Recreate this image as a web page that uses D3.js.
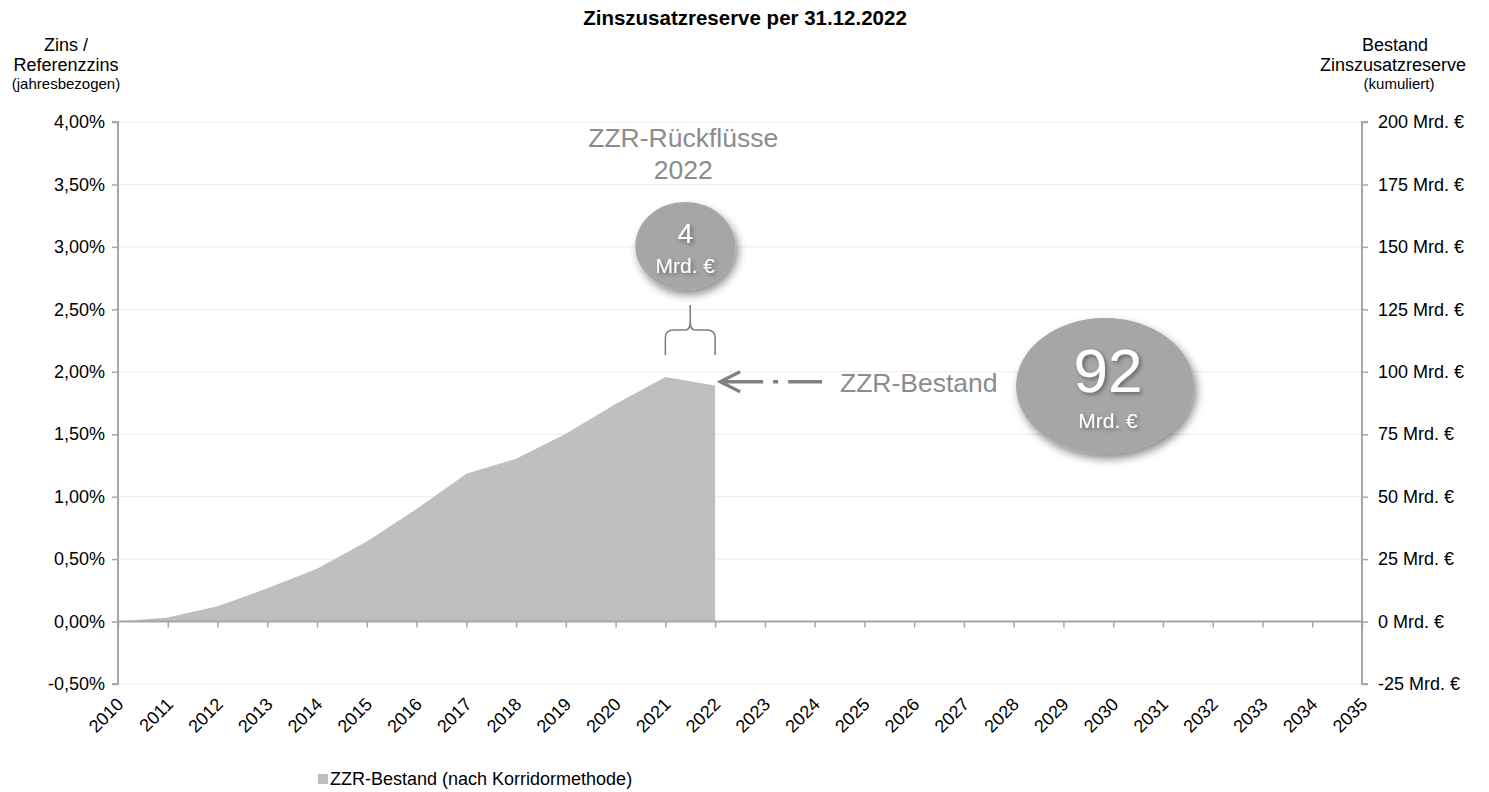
<!DOCTYPE html>
<html><head><meta charset="utf-8">
<script src="https://cdn.jsdelivr.net/npm/d3@7"></script>
<style>
body{margin:0;background:#fff;}
svg{display:block;font-family:"Liberation Sans",Arial,sans-serif;}
</style></head>
<body><svg id="c" width="1489" height="792"></svg>
<script>
const years = ["2010","2011","2012","2013","2014","2015","2016","2017","2018","2019","2020","2021","2022","2023","2024","2025","2026","2027","2028","2029","2030","2031","2032","2033","2034","2035"];
const zzrYears = ["2010","2011","2012","2013","2014","2015","2016","2017","2018","2019","2020","2021","2022"];
const zzrValues = [0, 1.6, 6.1, 13.3, 21.1, 32.1, 45.1, 59.2, 65.2, 75.2, 87.1, 97.9, 94.5];
const leftTicks = [-0.5, 0, 0.5, 1.0, 1.5, 2.0, 2.5, 3.0, 3.5, 4.0];
const rightTicks = [-25, 0, 25, 50, 75, 100, 125, 150, 175, 200];
const bubbleSmall = {value: "4", unit: "Mrd. €"};
const bubbleBig = {value: "92", unit: "Mrd. €"};

const svg = d3.select("#c");
const L = 118, R = 1362, T = 122, B = 684;
const x = d3.scalePoint().domain(years).range([L, R]);
const yL = d3.scaleLinear().domain([-0.5, 4]).range([B, T]);
const yR = d3.scaleLinear().domain([-25, 200]).range([B, T]);
const axisCol = "#a6a6a6";
const FF = "Liberation Sans, Arial, sans-serif";

const defs = svg.append("defs");
const f = defs.append("filter").attr("id","sh").attr("x","-30%").attr("y","-30%").attr("width","170%").attr("height","170%");
f.append("feDropShadow").attr("dx",3).attr("dy",5).attr("stdDeviation",4).attr("flood-color","#000").attr("flood-opacity",0.45);
const ft = defs.append("filter").attr("id","tsh").attr("x","-30%").attr("y","-30%").attr("width","170%").attr("height","170%");
ft.append("feDropShadow").attr("dx",2).attr("dy",2).attr("stdDeviation",2).attr("flood-color","#000").attr("flood-opacity",0.4);

// gridlines
svg.append("g").selectAll("line").data(leftTicks).join("line")
  .attr("x1", L).attr("x2", R).attr("y1", d => yL(d)).attr("y2", d => yL(d))
  .attr("stroke", "#ececec").attr("stroke-width", 1);

// area
const area = d3.area().x((d,i) => x(zzrYears[i])).y0(yR(0)).y1(d => yR(d));
svg.append("path").datum(zzrValues).attr("d", area).attr("fill", "#bfbfbf");

// left axis
const gl = svg.append("g").attr("transform", `translate(${L},0)`)
  .call(d3.axisLeft(yL).tickValues(leftTicks).tickSize(6).tickPadding(7)
    .tickFormat(d => d3.format(".2f")(d).replace(".", ",").replace("−", "-") + "%"));
// right axis
const gr = svg.append("g").attr("transform", `translate(${R},0)`)
  .call(d3.axisRight(yR).tickValues(rightTicks).tickSize(6).tickPadding(10)
    .tickFormat(d => d + " Mrd. €"));
[gl, gr].forEach(g => {
  g.select(".domain").attr("stroke", axisCol).attr("stroke-width", 2);
  g.selectAll(".tick line").attr("stroke", axisCol).attr("stroke-width", 1.5);
  g.selectAll("text").attr("font-size", 18).attr("fill", "#000").attr("font-family", FF);
});
gl.select(".domain").attr("d", `M-6,${T}H0V${B}H-6`);
gr.select(".domain").attr("d", `M6,${T}H0V${B}H6`);

// x axis at zero
const gx = svg.append("g").attr("transform", `translate(0,${yL(0)})`)
  .call(d3.axisBottom(x).tickSize(6).tickFormat(""));
gx.select(".domain").attr("stroke", axisCol).attr("stroke-width", 2).attr("d", `M${L},0H${R}`);
gx.selectAll(".tick line").attr("stroke", axisCol).attr("stroke-width", 1.5);

// x labels
svg.append("g").selectAll("text").data(years).join("text")
  .attr("transform", d => `translate(${x(d)+2},${B+17}) rotate(-45)`)
  .attr("text-anchor", "end").attr("dy", "0.35em")
  .attr("font-size", 18).attr("fill", "#000").text(d => d);

// title
svg.append("text").attr("x", 745).attr("y", 25).attr("text-anchor", "middle")
  .attr("font-size", 20.5).attr("font-weight", "bold").text("Zinszusatzreserve per 31.12.2022");

// axis titles
const lt = svg.append("text").attr("text-anchor", "middle").attr("fill", "#000");
lt.append("tspan").attr("x", 66).attr("y", 51).attr("font-size", 18).text("Zins /");
lt.append("tspan").attr("x", 66).attr("y", 71).attr("font-size", 18).text("Referenzzins");
lt.append("tspan").attr("x", 66).attr("y", 89).attr("font-size", 15).text("(jahresbezogen)");
const rt = svg.append("text").attr("text-anchor", "middle").attr("fill", "#000");
rt.append("tspan").attr("x", 1395).attr("y", 51).attr("font-size", 18).text("Bestand");
rt.append("tspan").attr("x", 1393).attr("y", 71).attr("font-size", 18).text("Zinszusatzreserve");
rt.append("tspan").attr("x", 1399).attr("y", 89).attr("font-size", 15).text("(kumuliert)");

// Rückflüsse annotation
const xMid = (x("2021") + x("2022")) / 2;
const ann = svg.append("text").attr("text-anchor", "middle").attr("fill", "#8c8c8c").attr("font-size", 26.5);
ann.append("tspan").attr("x", xMid - 7).attr("y", 147).text("ZZR-Rückflüsse");
ann.append("tspan").attr("x", xMid - 7).attr("y", 179).text("2022");

// small bubble
const sbx = xMid - 5, sby = 246;
svg.append("ellipse").attr("cx", sbx).attr("cy", sby).attr("rx", 50).attr("ry", 44)
  .attr("fill", "#a6a6a6").attr("filter", "url(#sh)");
svg.append("text").attr("x", sbx).attr("y", 243).attr("text-anchor", "middle").attr("fill", "#fff")
  .attr("font-size", 28).attr("filter", "url(#tsh)").text(bubbleSmall.value);
svg.append("text").attr("x", sbx).attr("y", 273).attr("text-anchor", "middle").attr("fill", "#fff")
  .attr("font-size", 21).attr("filter", "url(#tsh)").text(bubbleSmall.unit);

// brace
const bx1 = x("2021"), bx2 = x("2022");
svg.append("path")
  .attr("d", `M${bx1},355 V338 Q${bx1},330 ${bx1+8},330 H${xMid-5} Q${xMid},330 ${xMid},322 V305 M${xMid},322 Q${xMid},330 ${xMid+5},330 H${bx2-8} Q${bx2},330 ${bx2},338 V355`)
  .attr("fill", "none").attr("stroke", "#808080").attr("stroke-width", 1.6);

// arrow
const ay = yR(96);
const ax = x("2022") + 5;
svg.append("path").attr("d", `M${ax+20},${ay-10} L${ax},${ay} L${ax+20},${ay+10}`)
  .attr("fill", "none").attr("stroke", "#808080").attr("stroke-width", 3.2);
svg.append("line").attr("x1", ax+1).attr("x2", 822).attr("y1", ay).attr("y2", ay)
  .attr("stroke", "#808080").attr("stroke-width", 3.5).attr("stroke-dasharray", "42,10,5,10,60");
svg.append("text").attr("x", 840).attr("y", 392).attr("fill", "#8c8c8c").attr("font-size", 26.5).text("ZZR-Bestand");

// big bubble
const bbx = 1105, bby = 386;
svg.append("ellipse").attr("cx", bbx).attr("cy", bby).attr("rx", 89).attr("ry", 68)
  .attr("fill", "#a6a6a6").attr("filter", "url(#sh)");
svg.append("text").attr("x", bbx+3).attr("y", 392).attr("text-anchor", "middle").attr("fill", "#fff")
  .attr("font-size", 62).attr("filter", "url(#tsh)").text(bubbleBig.value);
svg.append("text").attr("x", bbx+3).attr("y", 428).attr("text-anchor", "middle").attr("fill", "#fff")
  .attr("font-size", 21).attr("filter", "url(#tsh)").text(bubbleBig.unit);

// legend
svg.append("rect").attr("x", 318).attr("y", 774).attr("width", 10).attr("height", 10).attr("fill", "#bfbfbf");
svg.append("text").attr("x", 330).attr("y", 785).attr("font-size", 18).attr("fill", "#000").text("ZZR-Bestand (nach Korridormethode)");
</script></body></html>
